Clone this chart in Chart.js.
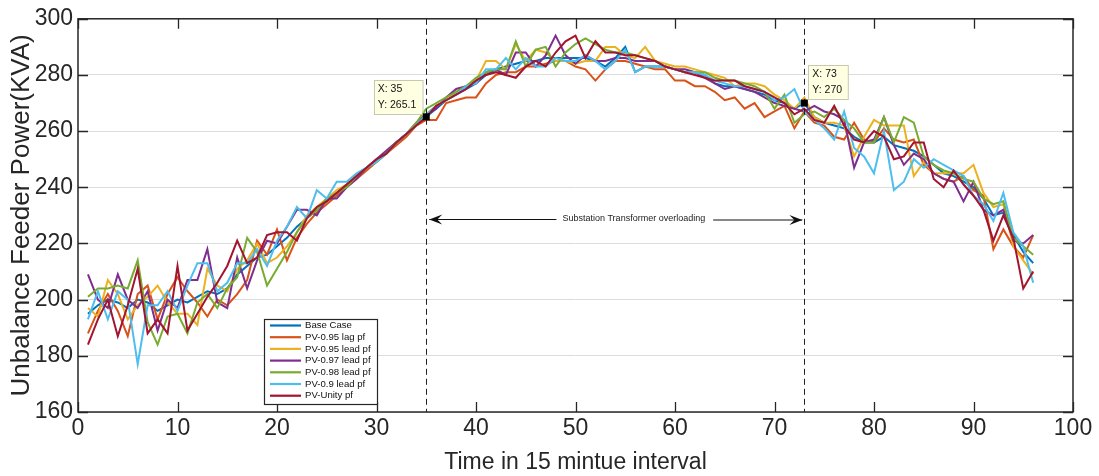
<!DOCTYPE html>
<html><head><meta charset="utf-8">
<script src="https://cdn.jsdelivr.net/npm/chart.js@4/dist/chart.umd.min.js"></script>
<style>html,body{margin:0;padding:0;background:#fff}#wrap{width:1099px;height:476px}</style>
</head><body><div id="wrap"><canvas id="c" width="1099" height="476"></canvas></div>
<script>
const xValues = [1,2,3,4,5,6,7,8,9,10,11,12,13,14,15,16,17,18,19,20,21,22,23,24,25,26,27,28,29,30,31,32,33,34,35,36,37,38,39,40,41,42,43,44,45,46,47,48,49,50,51,52,53,54,55,56,57,58,59,60,61,62,63,64,65,66,67,68,69,70,71,72,73,74,75,76,77,78,79,80,81,82,83,84,85,86,87,88,89,90,91,92,93,94,95,96];

const baseCase = [195,198,200,199,197,200,199,196,198,200,199,201,203,202,204,209,212,215,216,219,222,226,229,232,235,238,241,244,247,250,253,256,259,262,265.1,268,271,273,275,277,280,282,283,284,285,285,286,286,286,286,286,285,283,286,290,281,283,283,283,282,281,281,280,277,276,276,275,274,273,271,270,268,270,265,263,262,261,258,256,256,258,255,254,253,251,248,245,244,242,240,236,230,231,223,217,213];
const pv095lag = [188,196,202,196,187,202,205,193,202,208,203,199,194,200,198,202,207,221,216,225,214,222,227,231,234,237,240,243,246,249,252,255,258,262,264,264,270,271,272,272,277,280,281,281,283,283,284,285,285,283,282,278,282,285,285,284,283,282,282,278,278,276,276,274,271,272,268,270,265,267,269,261,267,263,262,258,257,263,257,256,261,257,256,257,248,245,243,242,244,239,237,218,225,219,215,223];
const pv095lead = [197,194,207,202,193,198,201,205,199,195,195,191,211,205,203,211,214,220,213,215,219,224,230,233,236,239,241,244,247,250,253,256,259,262,266,269,271,274,276,278,285,285,282,291,285,289,288,285,285,284,285,285,290,290,287,286,290,285,284,283,283,282,281,280,279,276,277,277,276,273,271,268,272,265,263,263,262,251,258,264,262,262,262,244,249,245,245,245,245,248,238,233,234,219,214,209];
const pv097lead = [209,200,197,209,200,197,203,189,200,197,207,207,218,199,197,215,204,214,221,220,226,232,232,230,236,236,240,243,247,250,253,256,259,263,266,268,272,275,276,277,281,282,280,288,288,283,287,294,287,284,287,285,285,286,286,285,285,285,283,282,282,281,279,277,275,276,275,274,272,270,269,268,267,269,267,266,264,247,256,257,265,255,248,252,250,245,243,242,235,242,232,230,232,221,220,223];
const pv098lead = [201,204,204,205,204,214,192,184,194,195,188,199,202,197,204,208,222,217,205,211,217,224,229,232,236,238,240,244,247,249,252,256,259,263,268,270,272,274,276,279,281,282,282,292,283,289,290,283,288,291,293,291,289,288,288,287,286,285,283,282,281,281,281,279,278,278,277,276,274,268,273,263,266,267,265,268,264,261,256,256,265,256,265,263,251,248,246,245,243,242,236,234,235,222,219,216];
const pv09lead = [193,203,193,203,200,177,198,198,203,196,205,213,213,203,206,213,213,218,212,221,226,233,229,239,236,242,242,245,247,249,252,256,259,262,266,269,271,273,276,277,282,282,286,282,286,283,283,286,285,285,287,285,282,285,289,281,283,283,283,282,281,281,280,278,277,276,276,275,274,271,272,275,267,264,261,257,267,254,251,245,260,239,242,250,247,250,248,246,244,237,234,228,238,224,219,206];
const pvUnity = [184,193,200,187,198,211,188,193,188,212,189,195,201,206,212,221,213,215,223,224,224,221,229,233,235,238,241,244,247,250,252,256,259,262,265,269,271,273,275,278,280,281,280,279,283,285,283,288,292,294,286,292,288,288,287,287,286,285,283,282,281,280,279,278,278,278,276,275,274,272,270,266,268,264,263,269,262,257,256,260,258,250,251,256,256,243,240,246,241,237,232,221,230,222,204,210];

const seriesNames = ['Base Case','PV-0.95 lag pf','PV-0.95 lead pf','PV-0.97 lead pf','PV-0.98 lead pf','PV-0.9 lead pf','PV-Unity pf'];
const seriesValues = [baseCase,pv095lag,pv095lead,pv097lead,pv098lead,pv09lead,pvUnity];
const seriesColors = ['#0072BD','#D95319','#EDB120','#7E2F8E','#77AC30','#4DBEEE','#A2142F'];
const xTicks = [0,10,20,30,40,50,60,70,80,90,100];
const yTicks = [160,180,200,220,240,260,280,300];
const tipX = [35,73];
const tipY = [265.1,270];
const overloadLabel = 'Substation Transformer overloading';
const arrowY = [228.6];

const FONT = '"Liberation Sans", Arial, Helvetica, sans-serif';

const overlay = {
  id:'overlay',
  afterDatasetsDraw(chart){
    const ctx = chart.ctx, a = chart.chartArea;
    const xs = chart.scales.x, ys = chart.scales.y;
    ctx.save();
    // frame
    ctx.strokeStyle = '#262626'; ctx.lineWidth = 1.5;
    ctx.strokeRect(a.left, a.top, a.right-a.left, a.bottom-a.top);
    // inward ticks
    ctx.lineWidth = 1.3;
    ctx.beginPath();
    xTicks.forEach(v=>{ const p = Math.round(xs.getPixelForValue(v))+0.5;
      ctx.moveTo(p,a.bottom); ctx.lineTo(p,a.bottom-10);
      ctx.moveTo(p,a.top); ctx.lineTo(p,a.top+10); });
    yTicks.forEach(v=>{ const p = Math.round(ys.getPixelForValue(v))+0.5;
      ctx.moveTo(a.left,p); ctx.lineTo(a.left+10,p);
      ctx.moveTo(a.right,p); ctx.lineTo(a.right-10,p); });
    ctx.stroke();
    // dashed lines
    ctx.strokeStyle = '#222'; ctx.lineWidth = 1; ctx.setLineDash([6,4]);
    tipX.forEach(v=>{ const p = Math.round(xs.getPixelForValue(v))+0.5;
      ctx.beginPath(); ctx.moveTo(p,a.top); ctx.lineTo(p,a.bottom); ctx.stroke(); });
    ctx.setLineDash([]);
    // arrow
    const ay = Math.round(ys.getPixelForValue(arrowY[0]))+0.5;
    const ax1 = xs.getPixelForValue(tipX[0])+3, ax2 = xs.getPixelForValue(tipX[1])-2;
    ctx.font = '9px ' + FONT;
    const tw = ctx.measureText(overloadLabel).width;
    const tc = (ax1+ax2)/2 + 18;
    ctx.strokeStyle = '#111'; ctx.lineWidth = 1;
    ctx.beginPath(); ctx.moveTo(ax1,ay); ctx.lineTo(tc-tw/2-6,ay);
    ctx.moveTo(tc+tw/2+8,ay+0.5); ctx.lineTo(ax2,ay+0.5); ctx.stroke();
    ctx.fillStyle = '#111';
    ctx.beginPath(); ctx.moveTo(ax1,ay); ctx.lineTo(ax1+13,ay-5); ctx.lineTo(ax1+8,ay); ctx.lineTo(ax1+13,ay+5); ctx.closePath(); ctx.fill();
    ctx.beginPath(); ctx.moveTo(ax2,ay+0.5); ctx.lineTo(ax2-13,ay-4.5); ctx.lineTo(ax2-8,ay+0.5); ctx.lineTo(ax2-13,ay+5.5); ctx.closePath(); ctx.fill();
    ctx.fillStyle = '#222'; ctx.textAlign = 'center'; ctx.textBaseline = 'middle';
    ctx.fillText(overloadLabel, tc, ay-1);
    // data tips
    tipX.forEach((v,i)=>{
      const px = xs.getPixelForValue(v), py = ys.getPixelForValue(tipY[i]);
      ctx.font = '10.5px ' + FONT;
      const l1 = 'X: ' + v, l2 = 'Y: ' + tipY[i];
      const w = Math.max(ctx.measureText(l1).width, ctx.measureText(l2).width) + 10;
      const h = 34;
      let bx, by;
      if (i === 0) { bx = px - 4 - w; by = py - 3 - h; } else { bx = px + 4; by = py - 4 - h; }
      ctx.fillStyle = '#FFFFE1'; ctx.strokeStyle = '#C8C8B0'; ctx.lineWidth = 1;
      ctx.fillRect(bx,by,w,h); ctx.strokeRect(Math.round(bx)+0.5,Math.round(by)+0.5,w,h);
      ctx.fillStyle = '#111'; ctx.textAlign = 'left'; ctx.textBaseline = 'middle';
      ctx.fillText(l1, bx+4, by+9.5); ctx.fillText(l2, bx+4, by+25);
      ctx.fillStyle = '#000'; ctx.fillRect(px-3.5,py-3.5,7,7);
    });
    // legend
    const lx = 264, ly = 319, lw = 113, lh = 85;
    ctx.fillStyle = '#fff'; ctx.fillRect(lx,ly,lw,lh);
    ctx.strokeStyle = '#262626'; ctx.lineWidth = 1.2; ctx.strokeRect(lx+0.5,ly+0.5,lw,lh);
    ctx.font = '9.6px ' + FONT; ctx.textAlign = 'left'; ctx.textBaseline = 'middle';
    chart.data.datasets.forEach((d,i)=>{
      const yy = ly + 6.5 + i*11.7;
      ctx.strokeStyle = d.borderColor; ctx.lineWidth = 2.2;
      ctx.beginPath(); ctx.moveTo(lx+6,yy); ctx.lineTo(lx+37,yy); ctx.stroke();
      ctx.fillStyle = '#111'; ctx.fillText(d.label, lx+41, yy);
    });
    ctx.restore();
  }
};

new Chart(document.getElementById('c'), {
  type:'line',
  data:{ datasets: seriesNames.map((n,i)=>({
    label:n,
    data: xValues.map((x,j)=>({x:x, y:seriesValues[i][j]})),
    borderColor: seriesColors[i], backgroundColor: seriesColors[i],
    borderWidth:2, pointRadius:0, tension:0, fill:false, order: 7-i
  })) },
  options:{
    responsive:false, animation:false, devicePixelRatio:1,
    layout:{padding:{left:0,right:26,top:18,bottom:0}},
    plugins:{legend:{display:false}, tooltip:{enabled:false}},
    scales:{
      x:{ type:'linear', min:0, max:100,
        afterBuildTicks: s=>{ s.ticks = xTicks.map(v=>({value:v})); },
        grid:{display:false, drawTicks:false}, border:{display:false},
        ticks:{font:{family:FONT,size:23}, color:'#262626', padding:3, maxRotation:0, autoSkip:false},
        title:{display:true, text:'Time in 15 mintue interval', font:{family:FONT,size:23}, color:'#262626', padding:{top:0,bottom:0}},
        afterFit: s=>{ s.height = 64; }
      },
      y:{ type:'linear', min:160, max:300,
        afterBuildTicks: s=>{ s.ticks = yTicks.map(v=>({value:v})); },
        grid:{color:'#DCDCDC', drawTicks:false, lineWidth:1}, border:{display:false},
        ticks:{font:{family:FONT,size:23}, color:'#262626', padding:5, autoSkip:false},
        title:{display:true, text:'Unbalance Feeder Power(KVA)', font:{family:FONT,size:26}, color:'#262626', padding:{top:6,bottom:0}},
        afterFit: s=>{ s.width = 78; }
      }
    }
  },
  plugins:[overlay]
});
</script>
</body></html>
